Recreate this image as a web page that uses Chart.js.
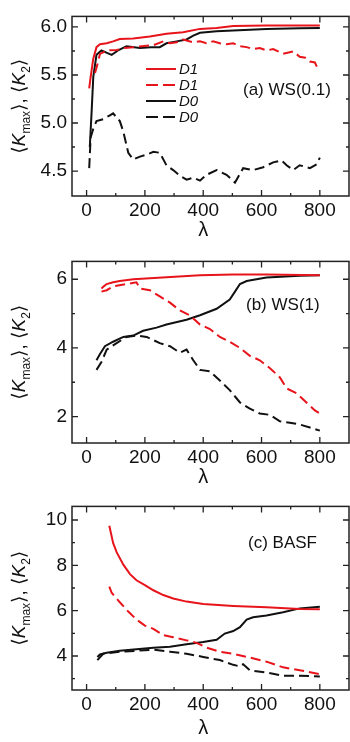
<!DOCTYPE html>
<html>
<head>
<meta charset="utf-8">
<script src="https://cdn.jsdelivr.net/npm/chart.js@4.4.1/dist/chart.umd.min.js"></script>
<style>
  body { margin: 0; background: #fff; }
  canvas { position: absolute; left: 0; }
</style>
</head>
<body>
<canvas id="chartA" width="350" height="245" style="top:0"></canvas>
<canvas id="chartB" width="350" height="245" style="top:245px"></canvas>
<canvas id="chartC" width="350" height="252" style="top:490px"></canvas>
<script>
// values, [lambda, value]
const xTicks = [0, 200, 400, 600, 800];
const xMinorTicks = [100, 300, 500, 700];

// (a) WS(0.1)
const aD1Solid = [[9,5.36],[14,5.48],[23,5.67],[34,5.79],[46,5.82],[69,5.83],[91,5.85],[114,5.875],[160,5.88],[217,5.90],[274,5.93],[331,5.945],[389,5.98],[446,5.99],[503,6.01],[617,6.015],[800,6.015]];
const aD1Dashed = [[29,5.52],[38,5.62],[46,5.72],[69,5.755],[103,5.76],[130,5.78],[160,5.79],[189,5.80],[229,5.81],[263,5.85],[286,5.83],[309,5.84],[331,5.87],[366,5.84],[389,5.85],[411,5.83],[434,5.85],[457,5.83],[480,5.82],[503,5.83],[526,5.80],[549,5.79],[571,5.77],[594,5.78],[617,5.755],[640,5.77],[674,5.72],[709,5.745],[731,5.69],[750,5.68],[766,5.64],[783,5.63],[794,5.56],[800,5.55]];
const aD0Solid = [[11,4.75],[17,5.1],[23,5.48],[34,5.71],[51,5.755],[70,5.73],[86,5.71],[110,5.76],[137,5.80],[183,5.78],[220,5.79],[251,5.79],[274,5.83],[309,5.85],[343,5.87],[366,5.91],[389,5.94],[446,5.955],[560,5.97],[617,5.98],[731,5.987],[800,5.99]];
const aD0Dashed = [[9,4.53],[14,4.85],[23,4.94],[34,5.02],[57,5.04],[80,5.08],[91,5.10],[114,5.02],[126,4.91],[143,4.69],[160,4.62],[183,4.65],[206,4.67],[229,4.70],[251,4.69],[274,4.56],[297,4.51],[320,4.45],[343,4.41],[366,4.43],[389,4.40],[411,4.46],[446,4.51],[480,4.46],[509,4.38],[537,4.53],[571,4.51],[606,4.54],[640,4.59],[669,4.61],[686,4.56],[709,4.51],[731,4.56],[766,4.53],[789,4.57],[800,4.64]];
const aYTicks = [4.5, 5.0, 5.5, 6.0];
const aYMinor = [4.75, 5.25, 5.75];

// (b) WS(1)
const bD1Solid = [[51,5.73],[60,5.80],[69,5.86],[91,5.91],[114,5.95],[160,6.0],[274,6.06],[389,6.12],[503,6.14],[617,6.14],[800,6.12]];
const bD1Dashed = [[51,5.64],[69,5.68],[91,5.79],[137,5.86],[171,5.91],[183,5.73],[217,5.68],[251,5.5],[286,5.32],[320,5.09],[354,4.95],[389,4.68],[423,4.55],[457,4.32],[491,4.18],[526,4.0],[560,3.77],[594,3.64],[629,3.41],[663,3.14],[686,2.82],[720,2.68],[754,2.41],[783,2.18],[800,2.09]];
const bD0Solid = [[34,3.64],[46,3.82],[63,4.05],[91,4.18],[126,4.32],[160,4.36],[194,4.5],[240,4.59],[274,4.68],[343,4.82],[389,4.95],[446,5.14],[491,5.41],[509,5.64],[526,5.86],[549,5.95],[617,6.05],[731,6.10],[800,6.12]];
const bD0Dashed = [[34,3.36],[51,3.59],[69,3.95],[103,4.14],[137,4.32],[171,4.36],[206,4.32],[251,4.14],[286,4.05],[320,3.86],[343,3.95],[366,3.64],[389,3.36],[423,3.32],[457,3.05],[491,2.77],[526,2.41],[560,2.23],[594,2.09],[629,2.05],[663,1.86],[697,1.82],[731,1.77],[766,1.68],[800,1.59]];
const bYTicks = [2, 4, 6];
const bYMinor = [3, 5];

// (c) BASF
const cD1Solid = [[78,9.75],[91,8.99],[103,8.58],[126,8.03],[149,7.61],[171,7.34],[200,7.13],[229,6.90],[263,6.69],[297,6.54],[343,6.40],[400,6.29],[503,6.21],[617,6.15],[731,6.07],[800,6.06]];
const cD1Dashed = [[78,7.06],[86,6.79],[114,6.37],[143,5.96],[171,5.61],[200,5.34],[229,5.20],[263,4.92],[297,4.83],[343,4.69],[377,4.58],[411,4.37],[457,4.19],[503,4.10],[560,3.93],[617,3.75],[674,3.50],[731,3.37],[800,3.20]];
const cD0Solid = [[37,3.96],[46,4.07],[69,4.14],[114,4.23],[171,4.30],[229,4.36],[286,4.41],[343,4.52],[400,4.62],[446,4.72],[474,4.99],[503,5.10],[526,5.27],[549,5.61],[571,5.71],[617,5.79],[674,5.93],[731,6.10],[800,6.17]];
const cD0Dashed = [[37,3.82],[57,4.10],[114,4.19],[171,4.23],[229,4.28],[286,4.19],[343,4.10],[400,3.96],[457,3.82],[503,3.61],[526,3.54],[537,3.64],[560,3.37],[617,3.27],[674,3.13],[731,3.13],[800,3.10]];
const cYTicks = [4, 6, 8, 10];
const cYMinor = [3, 5, 7, 9];

const RED = '#e8141b';
const BLACK = '#111';
const FONT = '"Liberation Sans", Arial, sans-serif';

const toPts = arr => arr.map(p => ({ x: p[0], y: p[1] }));

function makeSets(d1s, d1d, d0s, d0d) {
  const base = { pointRadius: 0, borderWidth: 2, tension: 0, fill: false };
  return [
    { ...base, label: 'D1', data: toPts(d1s), borderColor: RED },
    { ...base, label: 'D1', data: toPts(d1d), borderColor: RED, borderDash: [10, 5] },
    { ...base, label: 'D0', data: toPts(d0s), borderColor: BLACK },
    { ...base, label: 'D0', data: toPts(d0d), borderColor: BLACK, borderDash: [10, 5] }
  ];
}

// frame, inward ticks, axis titles, panel label, legend
const decor = {
  id: 'decor',
  afterDraw(chart, args, o) {
    const { ctx, chartArea: a, scales: { x, y } } = chart;
    ctx.save();
    ctx.strokeStyle = '#222';
    ctx.lineWidth = 1.5;
    ctx.strokeRect(a.left, a.top, a.right - a.left, a.bottom - a.top);

    ctx.lineWidth = 1.3;
    const tickX = (v, len) => {
      const px = x.getPixelForValue(v);
      ctx.beginPath();
      ctx.moveTo(px, a.bottom); ctx.lineTo(px, a.bottom - len);
      ctx.moveTo(px, a.top); ctx.lineTo(px, a.top + len);
      ctx.stroke();
    };
    const tickY = (v, len) => {
      const py = y.getPixelForValue(v);
      ctx.beginPath();
      ctx.moveTo(a.left, py); ctx.lineTo(a.left + len, py);
      ctx.moveTo(a.right, py); ctx.lineTo(a.right - len, py);
      ctx.stroke();
    };
    xTicks.forEach(v => tickX(v, 6));
    xMinorTicks.forEach(v => tickX(v, 3));
    o.yTicks.forEach(v => tickY(v, 6));
    o.yMinor.forEach(v => tickY(v, 3));

    // x title
    ctx.fillStyle = '#111';
    ctx.font = '20px ' + FONT;
    ctx.textAlign = 'center';
    ctx.textBaseline = 'middle';
    const cx = (x.getPixelForValue(0) + x.getPixelForValue(800)) / 2;
    ctx.fillText('λ', cx, a.bottom + o.lambdaGap);

    // y title <K_max>, <K_2>
    const parts = [
      { t: '\u27E8', f: '19px "DejaVu Sans"', dy: 0 },
      { t: 'K', f: 'italic 19px ' + FONT, dy: 0 },
      { t: 'max', f: '12px ' + FONT, dy: 5 },
      { t: '\u27E9', f: '19px "DejaVu Sans"', dy: 0 },
      { t: ', ', f: '19px ' + FONT, dy: 0 },
      { t: '\u27E8', f: '19px "DejaVu Sans"', dy: 0 },
      { t: 'K', f: 'italic 19px ' + FONT, dy: 0 },
      { t: '2', f: '12px ' + FONT, dy: 5 },
      { t: '\u27E9', f: '19px "DejaVu Sans"', dy: 0 }
    ];
    let total = 0;
    parts.forEach(p => { ctx.font = p.f; p.w = ctx.measureText(p.t).width; total += p.w; });
    ctx.translate(18, (a.top + a.bottom) / 2);
    ctx.rotate(-Math.PI / 2);
    ctx.textAlign = 'left';
    ctx.textBaseline = 'alphabetic';
    let pos = -total / 2;
    parts.forEach(p => { ctx.font = p.f; ctx.fillText(p.t, pos, 7 + p.dy); pos += p.w; });
    ctx.setTransform(1, 0, 0, 1, 0, 0);

    // panel label
    ctx.font = '17px ' + FONT;
    ctx.textAlign = 'left';
    ctx.textBaseline = 'middle';
    ctx.fillText(o.label, o.labelPos[0], o.labelPos[1]);

    // legend (panel a only)
    if (o.legend) {
      chart.data.datasets.forEach((ds, i) => {
        const ly = o.legend.y + i * o.legend.step;
        ctx.strokeStyle = ds.borderColor;
        ctx.lineWidth = 2;
        ctx.setLineDash(ds.borderDash ? [12, 5] : []);
        ctx.beginPath();
        ctx.moveTo(o.legend.x, ly);
        ctx.lineTo(o.legend.x + 30, ly);
        ctx.stroke();
        ctx.setLineDash([]);
        ctx.fillStyle = '#111';
        ctx.font = 'italic 15px ' + FONT;
        ctx.fillText(ds.label, o.legend.x + 33, ly + 1);
      });
    }
    ctx.restore();
  }
};

function makeChart(id, sets, yMin, yMax, yTicks, yMinor, xHeight, padTop, deco, fmt) {
  return new Chart(document.getElementById(id), {
    type: 'line',
    data: { datasets: sets },
    plugins: [decor],
    options: {
      responsive: false,
      animation: false,
      layout: { padding: { top: padTop, right: 1, left: 0, bottom: 0 } },
      plugins: {
        legend: { display: false },
        tooltip: { enabled: false },
        decor: { yTicks, yMinor, ...deco }
      },
      scales: {
        x: {
          type: 'linear', min: -50, max: 900,
          grid: { display: false, drawTicks: false },
          border: { display: false },
          afterBuildTicks: s => { s.ticks = xTicks.map(v => ({ value: v })); },
          afterFit: s => { s.height = xHeight; },
          ticks: { padding: 3, maxRotation: 0, color: '#111', font: { size: 19, family: FONT } }
        },
        y: {
          min: yMin, max: yMax,
          grid: { display: false, drawTicks: false },
          border: { display: false },
          afterBuildTicks: s => { s.ticks = yTicks.map(v => ({ value: v })); },
          afterFit: s => { s.width = 72; },
          ticks: { padding: 5, color: '#111', font: { size: 19, family: FONT }, callback: fmt }
        }
      }
    }
  });
}

makeChart('chartA', makeSets(aD1Solid, aD1Dashed, aD0Solid, aD0Dashed), 4.24, 6.11, aYTicks, aYMinor, 49, 1,
  { label: '(a) WS(0.1)', labelPos: [243, 90], lambdaGap: 34, legend: { x: 146, y: 69, step: 16 } },
  v => v.toFixed(1));
makeChart('chartB', makeSets(bD1Solid, bD1Dashed, bD0Solid, bD0Dashed), 1.23, 6.52, bYTicks, bYMinor, 47, 4,
  { label: '(b) WS(1)', labelPos: [246, 60], lambdaGap: 34 },
  v => String(v));
makeChart('chartC', makeSets(cD1Solid, cD1Dashed, cD0Solid, cD0Dashed), 2.5, 10.6, cYTicks, cYMinor, 52, 4,
  { label: '(c) BASF', labelPos: [248, 53], lambdaGap: 38 },
  v => String(v));
</script>
</body>
</html>
